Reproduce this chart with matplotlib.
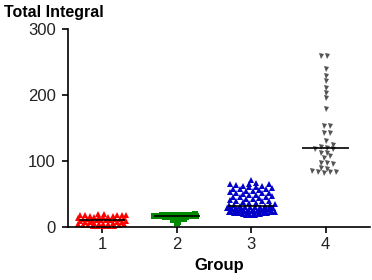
import numpy as np
import matplotlib
matplotlib.use("Agg")
import matplotlib.pyplot as plt

plt.rcParams['font.family'] = ['Liberation Sans', 'DejaVu Sans']

# ── Data ──────────────────────────────────────────────────────
groups = ["1", "2", "3", "4"]

group1 = [1, 1, 2, 2, 2, 3, 3, 3, 4, 4, 5, 5, 5, 6, 6, 7, 7, 8, 8, 9, 9,
          10, 10, 10, 11, 11, 12, 12, 13, 13, 14, 14, 15, 15, 16, 16, 17,
          17, 18, 18, 18, 19, 19, 20, 20]
group2 = [6, 8, 10, 11, 12, 13, 14, 15, 15, 16, 16, 17, 17, 17, 17, 18, 18,
          18, 19, 19, 19, 20]
group3 = [18, 18, 19, 19, 19, 20, 20, 20, 21, 21, 21, 22, 22, 22, 22, 23, 23,
          23, 23, 23, 24, 24, 24, 25, 25, 25, 26, 26, 26, 26, 27, 27, 27, 28,
          28, 28, 29, 29, 29, 29, 30, 30, 31, 31, 32, 32, 33, 34, 34, 35, 36,
          37, 38, 39, 40, 40, 41, 42, 43, 44, 45, 45, 46, 47, 48, 49, 50, 51,
          52, 52, 53, 54, 55, 56, 57, 58, 58, 59, 60, 61, 62, 63, 64, 65, 65,
          66, 67, 72]
group4 = [260, 259, 239, 229, 222, 211, 203, 195, 179, 153, 153, 142, 142,
          130, 124, 121, 120, 119, 118, 112, 112, 107, 104, 97, 97, 95, 90,
          88, 85, 84, 83, 83, 82]

data = [group1, group2, group3, group4]

# ── Style / layout ────────────────────────────────────────────
colors = ["#ff0000", "#008a00", "#0000c8", "#555555"]
markers = ["^", "s", "^", "v"]
msizes = [4.6, 4.0, 4.6, 3.6]
row_h = [5, 3.5, 6, 8]          # data units per swarm row
pt_gap = [6, 5.5, 6.5, 6]       # px between neighbours in a row
max_w = [46, 42, 46, 40]        # px, widest a row may get

W, H, DPI = 3.72, 2.80, 100
ax_rect = [0.183, 0.189, 0.812, 0.707]
xlim = (0.54, 4.6)
ylim = (0, 300)

fig = plt.figure(figsize=(W, H), dpi=DPI)
ax = fig.add_axes(ax_rect)

# px per data unit in x, for the swarm layout
sx = ax_rect[2] * W * DPI / (xlim[1] - xlim[0])


def row_offsets(vals, h, gap, wmax):
    """Prism-like column scatter: bin by value, spread each bin sideways,
    filling from the centre outwards and staggering alternate rows."""
    vals = np.asarray(vals, dtype=float)
    bins = np.floor(vals / h).astype(int)
    xs = np.zeros(len(vals))
    for b in np.unique(bins):
        idx = np.where(bins == b)[0]
        idx = idx[np.argsort(vals[idx])]
        n = len(idx)
        if n == 1:
            continue
        g = min(gap, wmax / (n - 1))
        slots = (np.arange(n) - (n - 1) / 2) * g
        # stagger neighbouring rows by half a gap
        slots = slots + (g / 4 if b % 2 else -g / 4)
        # centre-out ordering so rows don't slant
        order = np.argsort(np.abs(slots))
        xs[idx] = slots[order] / sx
    return xs


for i, vals in enumerate(data):
    pos = i + 1
    xo = row_offsets(vals, row_h[i], pt_gap[i], max_w[i])
    ax.plot(pos + xo, vals, linestyle="none", marker=markers[i],
            markersize=msizes[i], color=colors[i], markeredgewidth=0,
            zorder=2, clip_on=False)
    ax.hlines(np.median(vals), pos - 0.31, pos + 0.31, color="black",
              linewidth=1.2, zorder=3)

ax.set_xlim(*xlim)
ax.set_ylim(*ylim)
ax.set_xticks(range(1, 5))
ax.set_xticklabels(groups)
ax.set_yticks([0, 100, 200, 300])

for s in ["top", "right"]:
    ax.spines[s].set_visible(False)
for s in ["left", "bottom"]:
    ax.spines[s].set_linewidth(1.2)
ax.tick_params(axis="both", direction="out", length=4, width=1.2,
               labelsize=12, colors="black", labelcolor="#222222")
ax.tick_params(axis="y", pad=5)

ax.set_xlabel("Group", fontsize=12, fontweight="bold", labelpad=4)
fig.text(0.012, 0.955, "Total Integral", fontsize=11.5, fontweight="bold",
         ha="left", va="center")

fig.savefig("out.png", dpi=DPI)
